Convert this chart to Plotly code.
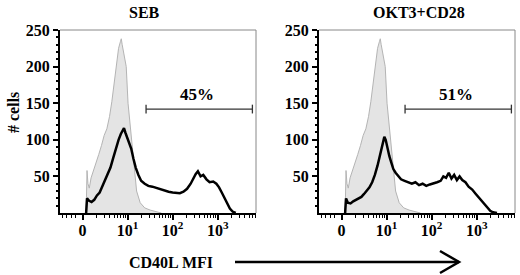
import math
import plotly.graph_objects as go

# transformed display scale: 0 -> "0", 1 -> 10^1, 2 -> 10^2, 3 -> 10^3
iso_t = [0.08, 0.10, 0.12, 0.15, 0.19, 0.23, 0.30, 0.36, 0.42, 0.48, 0.54, 0.60, 0.65, 0.70,
         0.75, 0.80, 0.84, 0.86, 0.88, 0.92, 0.97, 1.01, 1.05, 1.08, 1.12, 1.15, 1.20, 1.28,
         1.38, 1.50, 1.62, 1.75]
iso_count = [0, 58, 40, 34, 48, 55, 68, 80, 92, 106, 115, 132, 152, 178,
             205, 225, 234, 238, 230, 215, 200, 150, 125, 108, 80, 55, 30, 14,
             7, 4, 2, 0]

seb_t = [0.08, 0.10, 0.14, 0.20, 0.26, 0.32, 0.38, 0.44, 0.50, 0.56, 0.62, 0.68, 0.74, 0.80,
         0.85, 0.89, 0.92, 0.95, 0.99, 1.03, 1.08, 1.13, 1.18, 1.24, 1.30, 1.38, 1.46, 1.55,
         1.64, 1.73, 1.82, 1.91, 2.00, 2.08, 2.16, 2.24, 2.32, 2.40, 2.46, 2.51, 2.56, 2.62,
         2.68, 2.75, 2.82, 2.90, 2.97, 3.03, 3.09, 3.15, 3.21, 3.27, 3.33, 3.40]
seb_count = [0, 20, 17, 15, 18, 24, 28, 36, 44, 52, 62, 75, 88, 100,
             108, 113, 116, 110, 104, 98, 88, 74, 62, 52, 44, 40, 37, 36,
             34, 32, 30, 29, 28, 28, 27, 29, 33, 40, 48, 53, 57, 50,
             52, 46, 42, 43, 40, 35, 28, 20, 12, 6, 2, 0]

okt_t = [0.08, 0.10, 0.14, 0.20, 0.26, 0.32, 0.38, 0.44, 0.50, 0.56, 0.62, 0.68, 0.74, 0.80,
         0.86, 0.91, 0.95, 0.98, 1.02, 1.06, 1.10, 1.15, 1.20, 1.26, 1.32, 1.40, 1.48, 1.56,
         1.64, 1.72, 1.80, 1.88, 1.96, 2.04, 2.12, 2.20, 2.26, 2.32, 2.38, 2.44, 2.50, 2.56,
         2.62, 2.68, 2.75, 2.82, 2.90, 2.98, 3.06, 3.14, 3.22, 3.30, 3.36, 3.45]
okt_count = [0, 20, 14, 13, 16, 18, 20, 22, 26, 30, 35, 42, 52, 65,
             80, 92, 104, 100, 88, 78, 70, 60, 55, 50, 46, 44, 42, 40,
             42, 38, 40, 37, 39, 40, 42, 44, 50, 48, 55, 47, 52, 45,
             50, 45, 42, 36, 32, 26, 20, 14, 8, 3, 1, 0]

panel_titles = ["SEB", "OKT3+CD28"]
gate_labels = ["45%", "51%"]
gate_start = [1.41, 1.41]
gate_end = [3.77, 3.77]
gate_level = [142, 142]

x_tickvals = [0, 1, 2, 3]
x_ticktext = ["0", "10<sup>1</sup>", "10<sup>2</sup>", "10<sup>3</sup>"]
y_tickvals = [50, 100, 150, 200, 250]
y_ticktext = ["50", "100", "150", "200", "250"]

minor_x = [-0.45, -0.35, -0.25, -0.15, 0.3, 0.48, 0.6, 0.7, 0.78, 0.85, 0.9, 0.95]
for d in (1, 2, 3):
    for k in range(2, 10):
        v = d + math.log10(k)
        if v < 3.85:
            minor_x.append(v)
minor_y = [v for v in range(10, 250, 10) if v % 50 != 0]

FONT = "Liberation Serif, Times New Roman, DejaVu Serif, serif"
W, H = 520, 275


def px(x):
    return x / W


def py(y):
    return 1 - y / H


fig = go.Figure()
domains = [(px(60), px(256)), (px(319), px(515))]
title_x = [px(144), px(419)]
ydom = (py(213), py(30))
series = [(seb_t, seb_count), (okt_t, okt_count)]

for i in range(2):
    xa = "x" if i == 0 else "x2"
    ya = "y" if i == 0 else "y2"
    fig.add_trace(go.Scatter(x=iso_t, y=iso_count, mode="lines", fill="tozeroy",
                             fillcolor="#e4e4e4", line=dict(color="#b4b4b4", width=1),
                             xaxis=xa, yaxis=ya, showlegend=False, hoverinfo="skip"))
    fig.add_trace(go.Scatter(x=series[i][0], y=series[i][1], mode="lines",
                             line=dict(color="black", width=2.5),
                             xaxis=xa, yaxis=ya, showlegend=False, hoverinfo="skip"))
    fig.add_trace(go.Scatter(x=[gate_start[i], gate_end[i]], y=[gate_level[i], gate_level[i]],
                             mode="lines", line=dict(color="#333", width=1.3),
                             xaxis=xa, yaxis=ya, showlegend=False, hoverinfo="skip"))
    for gx in (gate_start[i], gate_end[i]):
        fig.add_trace(go.Scatter(x=[gx, gx], y=[gate_level[i] - 6, gate_level[i] + 6],
                                 mode="lines", line=dict(color="#333", width=1.3),
                                 xaxis=xa, yaxis=ya, showlegend=False, hoverinfo="skip"))
    fig.add_annotation(x=(gate_start[i] + gate_end[i]) / 2 - 0.05, y=gate_level[i] + 4,
                       xref=xa, yref=ya, text="<b>" + gate_labels[i] + "</b>", showarrow=False,
                       yanchor="bottom", xanchor="center",
                       font=dict(family=FONT, size=17, color="black"))
    fig.add_annotation(x=title_x[i], y=py(12),
                       xref="paper", yref="paper", text="<b>" + panel_titles[i] + "</b>",
                       showarrow=False, xanchor="center", yanchor="middle",
                       font=dict(family=FONT, size=16, color="black"))
    fig.add_shape(type="line", xref=xa + " domain", yref=ya + " domain", x0=0, x1=1, y0=1, y1=1,
                  line=dict(color="#888", width=1))
    fig.add_shape(type="line", xref=xa + " domain", yref=ya + " domain", x0=1, x1=1, y0=0, y1=1,
                  line=dict(color="#888", width=1))

axis_font = dict(family=FONT, size=16, color="black")
for i in range(2):
    xkey = "xaxis" if i == 0 else "xaxis2"
    ykey = "yaxis" if i == 0 else "yaxis2"
    fig.layout[xkey] = dict(domain=domains[i], range=[-0.5, 3.85], anchor="y" if i == 0 else "y2",
                            tickmode="array", tickvals=x_tickvals,
                            ticktext=["<b>" + t + "</b>" for t in x_ticktext],
                            ticks="outside", ticklen=5, tickwidth=1.5, tickcolor="black",
                            showline=True, linecolor="black", linewidth=2, showgrid=False,
                            zeroline=False, tickfont=axis_font, automargin=False,
                            ticklabelstandoff=-3,
                            minor=dict(tickmode="array", tickvals=minor_x, ticks="outside",
                                       ticklen=3, tickwidth=1, tickcolor="black", showgrid=False))
    fig.layout[ykey] = dict(domain=ydom, range=[0, 250], anchor="x" if i == 0 else "x2",
                            tickmode="array", tickvals=y_tickvals,
                            ticktext=["<b>" + t + "</b>" for t in y_ticktext],
                            ticks="outside", ticklen=5, tickwidth=1.5, tickcolor="black",
                            showline=True, linecolor="black", linewidth=2, showgrid=False,
                            zeroline=False, tickfont=axis_font, automargin=False,
                            minor=dict(tickmode="array", tickvals=minor_y, ticks="outside",
                                       ticklen=2, tickwidth=1.5, tickcolor="black", showgrid=False))

fig.add_annotation(x=px(13), y=py(113), xref="paper", yref="paper", text="<b># cells</b>",
                   textangle=-90, showarrow=False, xanchor="center", yanchor="middle",
                   font=dict(family=FONT, size=16, color="black"))
fig.add_annotation(x=px(171), y=py(262), xref="paper", yref="paper", text="<b>CD40L MFI</b>",
                   showarrow=False, xanchor="center", yanchor="middle",
                   font=dict(family=FONT, size=16, color="black"))

fig.add_shape(type="line", xref="paper", yref="paper", x0=px(235), x1=px(459), y0=py(262), y1=py(262),
              line=dict(color="black", width=2.5))
fig.add_shape(type="path", xref="paper", yref="paper",
              path=f"M {px(440)},{py(251)} L {px(459)},{py(262)} L {px(440)},{py(273)}",
              line=dict(color="black", width=2.5))

fig.update_layout(width=W, height=H, margin=dict(l=0, r=0, t=0, b=0, autoexpand=False),
                  plot_bgcolor="white", paper_bgcolor="white")
fig.write_html("out.html", config={"displayModeBar": False},
               post_script="document.body.style.margin='0';document.body.style.overflow='hidden';")
